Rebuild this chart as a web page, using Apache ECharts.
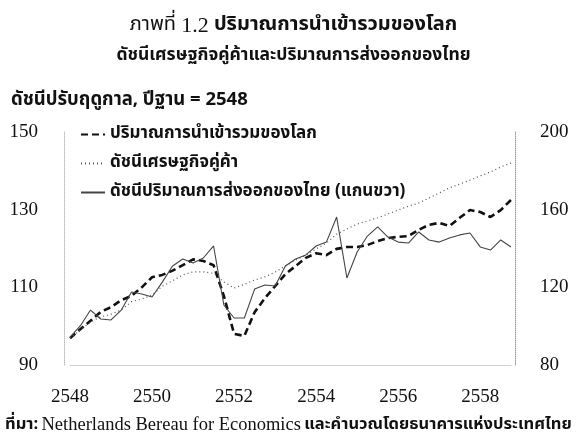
<!DOCTYPE html>
<html>
<head>
<meta charset="utf-8">
<script src="https://cdn.jsdelivr.net/npm/echarts@6/dist/echarts.min.js"></script>
<style>html,body{margin:0;padding:0;background:#fff}#c{width:587px;height:437px}</style>
</head>
<body>
<div id="c"></div>
<script>
// Quarterly categories 2548Q1 .. 2558Q4
const years = [2548,2549,2550,2551,2552,2553,2554,2555,2556,2557,2558];
const categories = [];
years.forEach(y => { for (let q = 1; q <= 4; q++) categories.push(y + 'Q' + q); });

const leftTicks = [90, 110, 130, 150];
const rightTicks = [80, 120, 160, 200];

// World import volume (left axis)
const worldImports = [96.9,99.2,101.4,103.7,104.9,106.7,107.8,110.0,112.6,113.2,114.3,115.7,
  117.2,116.8,115.7,107.8,98.0,97.5,103.6,107.2,110.3,113.4,115.5,117.6,
  118.8,118.3,119.9,120.4,120.4,120.9,121.9,122.7,123.0,123.2,124.8,126.1,
  126.6,125.8,127.9,129.9,129.4,128.1,129.9,132.5];
// Trading partner economic index (left axis)
const partnerIndex = [96.9,99.0,101.1,102.4,103.1,104.2,106.3,107.0,108.0,110.3,111.7,113.2,
  114.0,114.0,113.6,111.4,109.8,110.8,111.9,112.7,113.9,115.5,117.0,118.3,
  119.9,121.4,123.7,125.0,126.3,127.1,127.9,128.9,129.9,130.9,131.7,133.0,
  134.3,135.6,136.6,137.6,138.7,139.7,141.0,142.0];
// Thai export volume index (right axis)
const thaiExports = [94.4,100.1,108.3,103.7,103.2,108.3,117.6,116.6,115.0,122.7,131.0,134.6,
  132.5,135.1,141.3,110.9,104.2,104.2,119.1,121.2,120.7,131.0,134.6,136.7,
  141.3,143.3,156.2,124.8,138.2,146.4,151.1,145.9,143.3,142.8,148.5,144.4,
  143.3,145.4,147.0,148.0,140.8,139.2,144.4,140.8];

const thaiFont = "'Noto Sans Thai','Noto Sans Thai Looped','Loma','Garuda','Tlwg Typo','Noto Sans',sans-serif";
const serif = "'Liberation Serif','DejaVu Serif',serif";

const chart = echarts.init(document.getElementById('c'));
chart.setOption({
  backgroundColor: '#fff',
  animation: false,
  grid: { left: 70, right: 76, top: 132, bottom: 72 },
  legend: {
    orient: 'vertical', left: 75, top: 121,
    itemWidth: 24, itemHeight: 17, itemGap: 12,
    itemStyle: { opacity: 0 },
    textStyle: { fontFamily: thaiFont, fontWeight: 'bold', fontSize: 17, color: '#111' },
    data: ['ปริมาณการนำเข้ารวมของโลก','ดัชนีเศรษฐกิจคู่ค้า','ดัชนีปริมาณการส่งออกของไทย (แกนขวา)']
  },
  xAxis: {
    type: 'category', data: categories, boundaryGap: false,
    axisLine: { show: true, lineStyle: { color: '#c8c8c8', type: 'dotted', width: 1 } },
    axisTick: { show: false },
    axisLabel: {
      interval: 7, margin: 23,
      formatter: v => v.slice(0, 4),
      fontFamily: serif, fontSize: 19, color: '#111'
    },
    splitLine: { show: false }
  },
  yAxis: [
    { type: 'value', min: 90, max: 150, interval: 20, offset: 6,
      axisLine: { show: true, lineStyle: { color: '#bbb', type: 'dotted' } },
      axisTick: { show: false }, splitLine: { show: false },
      axisLabel: { margin: 26, fontFamily: serif, fontSize: 19, color: '#111' } },
    { type: 'value', min: 80, max: 200, interval: 40, offset: 4, position: 'right',
      axisLine: { show: true, lineStyle: { color: '#999', type: 'dotted' } },
      axisTick: { show: false }, splitLine: { show: false },
      axisLabel: { margin: 25, fontFamily: serif, fontSize: 19, color: '#111' } }
  ],
  series: [
    { name: 'ปริมาณการนำเข้ารวมของโลก', type: 'line', data: worldImports, yAxisIndex: 0,
      symbol: 'none', itemStyle: { color: '#111' },
      lineStyle: { color: '#111', width: 2.6, type: [7, 4] } },
    { name: 'ดัชนีเศรษฐกิจคู่ค้า', type: 'line', data: partnerIndex, yAxisIndex: 0,
      symbol: 'none', itemStyle: { color: '#555' },
      lineStyle: { color: '#555', width: 1.2, type: [1, 3] } },
    { name: 'ดัชนีปริมาณการส่งออกของไทย (แกนขวา)', type: 'line', data: thaiExports, yAxisIndex: 1,
      symbol: 'none', itemStyle: { color: '#444' },
      lineStyle: { color: '#444', width: 1.1, type: 'solid' } }
  ],
  graphic: [
    { type: 'text', left: 'center', top: 15,
      style: {
        text: '{n|ภาพที่ }{d|1.2}{b| ปริมาณการนำเข้ารวมของโลก}',
        rich: {
          n: { fontFamily: thaiFont, fontSize: 20, fill: '#111' },
          d: { fontFamily: serif, fontSize: 22, fill: '#111' },
          b: { fontFamily: thaiFont, fontWeight: 'bold', fontSize: 20, fill: '#111' }
        }
      } },
    { type: 'text', left: 'center', top: 47,
      style: { text: 'ดัชนีเศรษฐกิจคู่ค้าและปริมาณการส่งออกของไทย', font: "bold 17.5px " + thaiFont, fill: '#111' } },
    { type: 'text', left: 11, top: 92,
      style: { text: 'ดัชนีปรับฤดูกาล, ปีฐาน = 2548', font: "bold 18.5px " + thaiFont, fill: '#111' } },
    { type: 'text', left: 5, top: 416,
      style: {
        text: '{th|ที่มา:} {en|Netherlands Bereau for Economics} {th|และคำนวณโดยธนาคารแห่งประเทศไทย}',
        rich: {
          th: { fontFamily: thaiFont, fontWeight: 'bold', fontSize: 16.5, fill: '#111' },
          en: { fontFamily: serif, fontSize: 18.5, fill: '#111' }
        }
      } }
  ]
});
</script>
</body>
</html>
